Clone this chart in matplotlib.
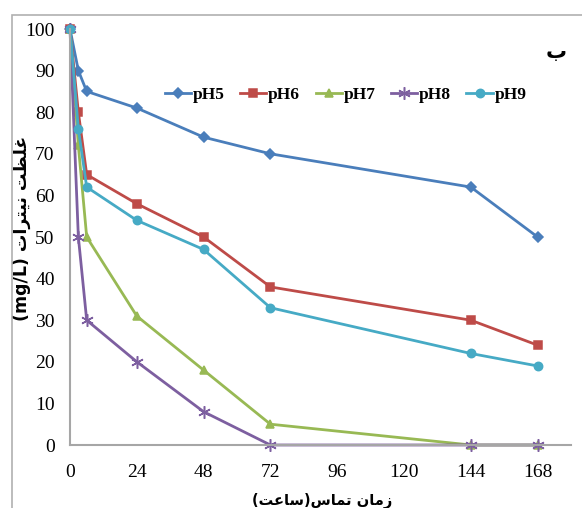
import matplotlib.pyplot as plt
from matplotlib.patches import Rectangle

# contact time (h) and nitrate concentration (mg/L)
time = [0, 3, 6, 24, 48, 72, 144, 168]
ph5 = [100, 90, 85, 81, 74, 70, 62, 50]
ph6 = [100, 80, 65, 58, 50, 38, 30, 24]
ph7 = [100, 72, 50, 31, 18, 5, 0, 0]
ph8 = [100, 50, 30, 20, 8, 0, 0, 0]
ph9 = [100, 76, 62, 54, 47, 33, 22, 19]

labels = ["pH5", "pH6", "pH7", "pH8", "pH9"]
xticks = [0, 24, 48, 72, 96, 120, 144, 168]

# Arabic script written in visual order with presentation forms (matplotlib has no shaping)
xlabel = "(\uFE96\uFECB\uFE8E\uFEB3)\uFEB1\uFE8E\uFEE4\uFE97 \uFEE5\uFE8E\uFEE3\uFEAF"
ylabel = "(mg/L) \uFE95\uFE8D\uFEAE\uFE98\uFEF4\uFEE7 \uFE96\uFEC8\uFEE0\uFECF"
panel = "\u0628"

colors = ["#4a7ebb", "#be4b48", "#98b954", "#7d5fa0", "#46aac5"]
markers = ["D", "s", "^", (6, 2, 0), "o"]
sizes = [5, 6, 6, 9, 6]

serif = ["Liberation Serif", "DejaVu Serif"]

fig = plt.figure(figsize=(5.82, 5.08), dpi=100)
ax = fig.add_axes([70 / 582, 63 / 508, 501 / 582, 416 / 508])

fig.patches.append(Rectangle((12 / 582, -0.1), 1.2, 1 - 15 / 508 + 0.1,
                             transform=fig.transFigure, fill=False,
                             edgecolor="#b0b0b0", linewidth=1.2, zorder=0))

series = [ph5, ph6, ph7, ph8, ph9]
for s, lab, c, m, ms in zip(series, labels, colors, markers, sizes):
    ax.plot(time, s, color=c, marker=m, markersize=ms, linewidth=2,
            label=lab, clip_on=False, markeredgewidth=1.1)

ax.set_xlim(0, 180)
ax.set_ylim(0, 100)
ax.set_xticks(xticks)
ax.set_yticks(range(0, 101, 10))
ax.tick_params(length=0, labelsize=14)
ax.tick_params(axis="x", pad=14)
ax.tick_params(axis="y", pad=11)
for t in ax.get_xticklabels() + ax.get_yticklabels():
    t.set_family(serif)
ax.spines["top"].set_visible(False)
ax.spines["right"].set_visible(False)
for sp in ["left", "bottom"]:
    ax.spines[sp].set_color("#a6a6a6")
    ax.spines[sp].set_linewidth(1.5)

ax.set_xlabel(xlabel, fontsize=10.5, fontweight="bold", family="DejaVu Sans")
ax.xaxis.set_label_coords((322 - 70) / 501, -(493 - 445) / 416)
ax.set_ylabel(ylabel, fontsize=12.5, fontweight="bold", family="DejaVu Sans")
ax.yaxis.set_label_coords(-(70 - 31) / 501, (445 - 228) / 416)

fig.text(556 / 582, 1 - 52 / 508, panel,
         fontsize=15, fontweight="bold", family="DejaVu Sans", ha="center", va="center")

leg = ax.legend(loc="center left", bbox_to_anchor=((165 - 70) / 501, (445 - 95) / 416),
                ncol=5, frameon=False,
                prop={"family": serif, "weight": "bold", "size": 12.5},
                handlelength=1.5, handletextpad=0.1, columnspacing=0.9,
                borderaxespad=0, borderpad=0)

fig.savefig("out.png", dpi=100)
